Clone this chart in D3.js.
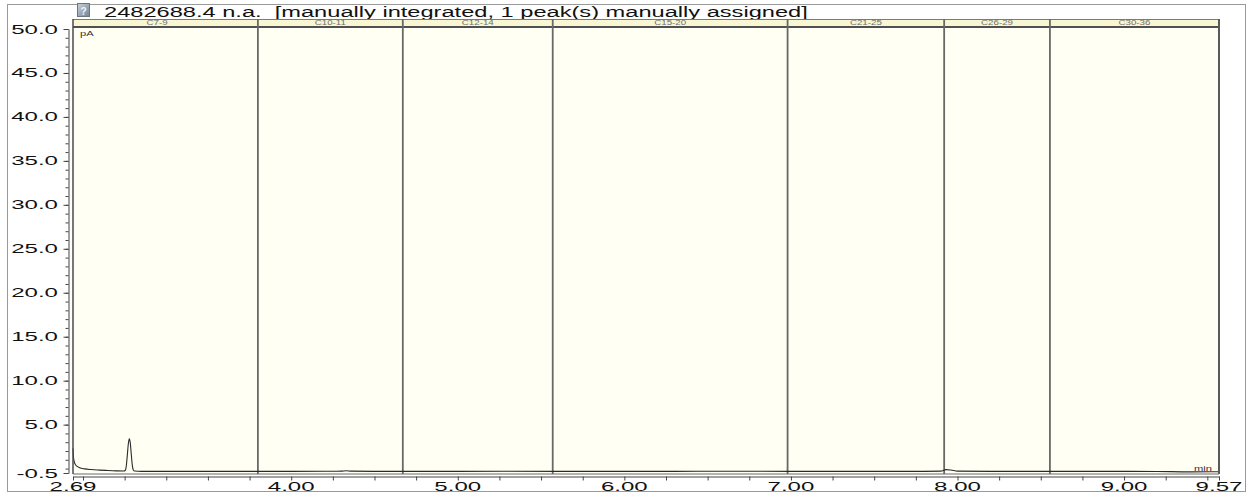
<!DOCTYPE html>
<html>
<head>
<meta charset="utf-8">
<script src="https://cdn.jsdelivr.net/npm/d3@7/dist/d3.min.js"></script>
<style>
  html, body { margin: 0; padding: 0; background: #fff; }
  svg { display: block; font-family: "Liberation Sans", Arial, sans-serif; }
</style>
</head>
<body>
<svg id="chart" width="1247" height="494"></svg>
<script>
// Chromatogram trace: retention time (min) and signal (pA)
const traceTime  = [2.690, 2.693, 2.698, 2.705, 2.715, 2.730, 2.760, 2.800, 2.850, 2.900, 2.950, 2.995,
                    3.003, 3.010, 3.016, 3.022, 3.028, 3.034, 3.040, 3.046, 3.052, 3.060, 3.100,
                    3.300, 3.600, 3.800, 4.000, 4.200, 4.300, 4.330, 4.360, 4.500, 4.800, 5.000, 5.300,
                    5.600, 6.000, 6.300, 6.600, 7.000, 7.400, 7.800, 7.900, 7.930, 7.960, 8.000, 8.200,
                    8.600, 9.000, 9.200, 9.400, 9.570];
const traceSignal = [2.30, 1.30, 0.75, 0.45, 0.25, 0.10, -0.03, -0.11, -0.17, -0.22, -0.26, -0.28,
                    -0.22, 0.30, 1.50, 2.80, 3.38, 2.90, 1.60, 0.40, -0.15, -0.28, -0.31,
                    -0.32, -0.31, -0.32, -0.31, -0.30, -0.29, -0.24, -0.29, -0.31, -0.32, -0.31, -0.30,
                    -0.31, -0.32, -0.31, -0.30, -0.31, -0.32, -0.31, -0.29, -0.12, -0.16, -0.29, -0.31,
                    -0.32, -0.31, -0.33, -0.37, -0.36];

// Carbon-range windows along the time axis
const windowNames  = ["C7-9", "C10-11", "C12-14", "C15-20", "C21-25", "C26-29", "C30-36"];
const windowBounds = [2.59, 3.80, 4.67, 5.57, 6.98, 7.92, 8.555, 9.57];

// Axis ticks and labels
const xLabelValues = [2.69, 4.00, 5.00, 6.00, 7.00, 8.00, 9.00, 9.57];
const yLabelValues = [-0.5, 5, 10, 15, 20, 25, 30, 35, 40, 45, 50];

const titleText = "2482688.4 n.a.  [manually integrated, 1 peak(s) manually assigned]";

const svg = d3.select("#chart");
const plot = { left: 73, right: 1219, bandTop: 19, top: 27, bottom: 474 };
const stretch = 1.85;   // wide lettering used across the report

const x = d3.scaleLinear().domain([2.69, 9.57]).range([plot.left, plot.right]);
const y = d3.scaleLinear().domain([-0.5, 50]).range([473, 29]);

// Outer report frame
svg.append("rect").attr("x", 7.5).attr("y", 4.5).attr("width", 1238).attr("height", 487)
  .attr("fill", "#fff").attr("stroke", "#9a9a9a").attr("stroke-width", 1);

// Title icon
const defs = svg.append("defs");
const ig = defs.append("linearGradient").attr("id", "iconGrad").attr("x1", 0).attr("y1", 0).attr("x2", 1).attr("y2", 1);
ig.append("stop").attr("offset", 0).attr("stop-color", "#c9d3dc");
ig.append("stop").attr("offset", 1).attr("stop-color", "#6f8294");
svg.append("rect").attr("x", 77.5).attr("y", 3.5).attr("width", 12).attr("height", 13)
  .attr("fill", "url(#iconGrad)").attr("stroke", "#6d7680");
svg.append("text").attr("x", 83.5).attr("y", 14.5).attr("text-anchor", "middle")
  .attr("font-size", 10).attr("font-weight", "bold").attr("fill", "#f2f4f6").text("?");

// Title
svg.append("text")
  .attr("transform", `translate(104,16.5) scale(1.63,1)`)
  .style("white-space", "pre")
  .attr("font-size", 14.5).attr("fill", "#111").text(titleText);

// Plot background
svg.append("rect").attr("x", plot.left).attr("y", plot.top)
  .attr("width", plot.right - plot.left).attr("height", plot.bottom - plot.top)
  .attr("fill", "#fffff4");

// Window header band
svg.append("rect").attr("x", plot.left).attr("y", plot.bandTop)
  .attr("width", plot.right - plot.left).attr("height", plot.top - plot.bandTop)
  .attr("fill", "#f9f6d3");
svg.append("line").attr("x1", plot.left).attr("x2", plot.right)
  .attr("y1", plot.bandTop + 0.5).attr("y2", plot.bandTop + 0.5)
  .attr("stroke", "#7a7a7a").attr("stroke-width", 1);
svg.append("line").attr("x1", plot.left).attr("x2", plot.right)
  .attr("y1", plot.top).attr("y2", plot.top)
  .attr("stroke", "#505050").attr("stroke-width", 2);

const windows = windowNames.map((name, i) => ({ name, start: windowBounds[i], end: windowBounds[i + 1] }));
svg.append("g").selectAll("text").data(windows).join("text")
  .attr("transform", d => `translate(${(x(d.start) + x(d.end)) / 2},25) scale(1.5,1)`)
  .attr("text-anchor", "middle").attr("font-size", 6.5).attr("fill", "#707070")
  .text(d => d.name);

// Window boundaries
svg.append("g").selectAll("line").data(windowBounds.slice(1, -1)).join("line")
  .attr("x1", d => x(d)).attr("x2", d => x(d))
  .attr("y1", plot.bandTop).attr("y2", plot.bottom)
  .attr("stroke", "#686868").attr("stroke-width", 1.8);

// Trace
const trace = traceTime.map((t, i) => ({ t, v: traceSignal[i] }));
svg.append("path").datum(trace)
  .attr("fill", "none").attr("stroke", "#2a2a2a").attr("stroke-width", 1.1)
  .attr("stroke-linejoin", "round")
  .attr("d", d3.line().x(d => x(d.t)).y(d => y(d.v)).curve(d3.curveMonotoneX));

// Plot frame sides
svg.append("line").attr("x1", plot.left).attr("x2", plot.left).attr("y1", plot.bandTop).attr("y2", plot.bottom)
  .attr("stroke", "#4a4a4a").attr("stroke-width", 1.5);
svg.append("line").attr("x1", plot.right).attr("x2", plot.right).attr("y1", plot.bandTop).attr("y2", plot.bottom)
  .attr("stroke", "#5a5a5a").attr("stroke-width", 2);
svg.append("line").attr("x1", plot.left).attr("x2", plot.right).attr("y1", plot.bottom).attr("y2", plot.bottom)
  .attr("stroke", "#6a6a6a").attr("stroke-width", 1);

// Unit labels
svg.append("text").attr("transform", `translate(80,36) scale(1.6,1)`)
  .attr("font-size", 7).attr("fill", "#333").text("pA");
svg.append("text").attr("transform", `translate(1212,471) scale(1.6,1)`)
  .attr("text-anchor", "end").attr("font-size", 7).attr("fill", "#333").text("min");

// X axis
const xMinor = d3.range(2.75, 9.5001, 0.25).concat([2.69, 9.57]);
const xAxisG = svg.append("g").attr("transform", "translate(0,476.5)")
  .call(d3.axisBottom(x).tickValues(xMinor).tickSize(4).tickSizeOuter(0).tickFormat(""));
xAxisG.select(".domain").attr("stroke", "#444");
xAxisG.selectAll(".tick line").attr("stroke", "#444");
svg.append("g").selectAll("text").data(xLabelValues).join("text")
  .attr("transform", d => `translate(${x(d)},491) scale(${stretch},1)`)
  .attr("text-anchor", "middle").attr("font-size", 13).attr("fill", "#111")
  .text(d => d.toFixed(2));

// Y axis
const yMinor = d3.range(0, 51, 1).concat([-0.5]);
const yAxisG = svg.append("g").attr("transform", "translate(68.5,0)")
  .call(d3.axisLeft(y).tickValues(yMinor).tickSize(3).tickSizeOuter(0).tickFormat(""));
yAxisG.select(".domain").attr("stroke", "#444");
yAxisG.selectAll(".tick line").attr("stroke", "#444");
svg.append("g").attr("transform", "translate(68.5,0)")
  .call(d3.axisLeft(y).tickValues(yLabelValues).tickSize(5).tickFormat(""))
  .call(g => g.select(".domain").remove())
  .selectAll(".tick line").attr("stroke", "#444");
svg.append("g").selectAll("text").data(yLabelValues).join("text")
  .attr("transform", d => `translate(58,${y(d) + 4.5}) scale(${stretch},1)`)
  .attr("text-anchor", "end").attr("font-size", 13).attr("fill", "#111")
  .text(d => d.toFixed(1));
</script>
</body>
</html>
